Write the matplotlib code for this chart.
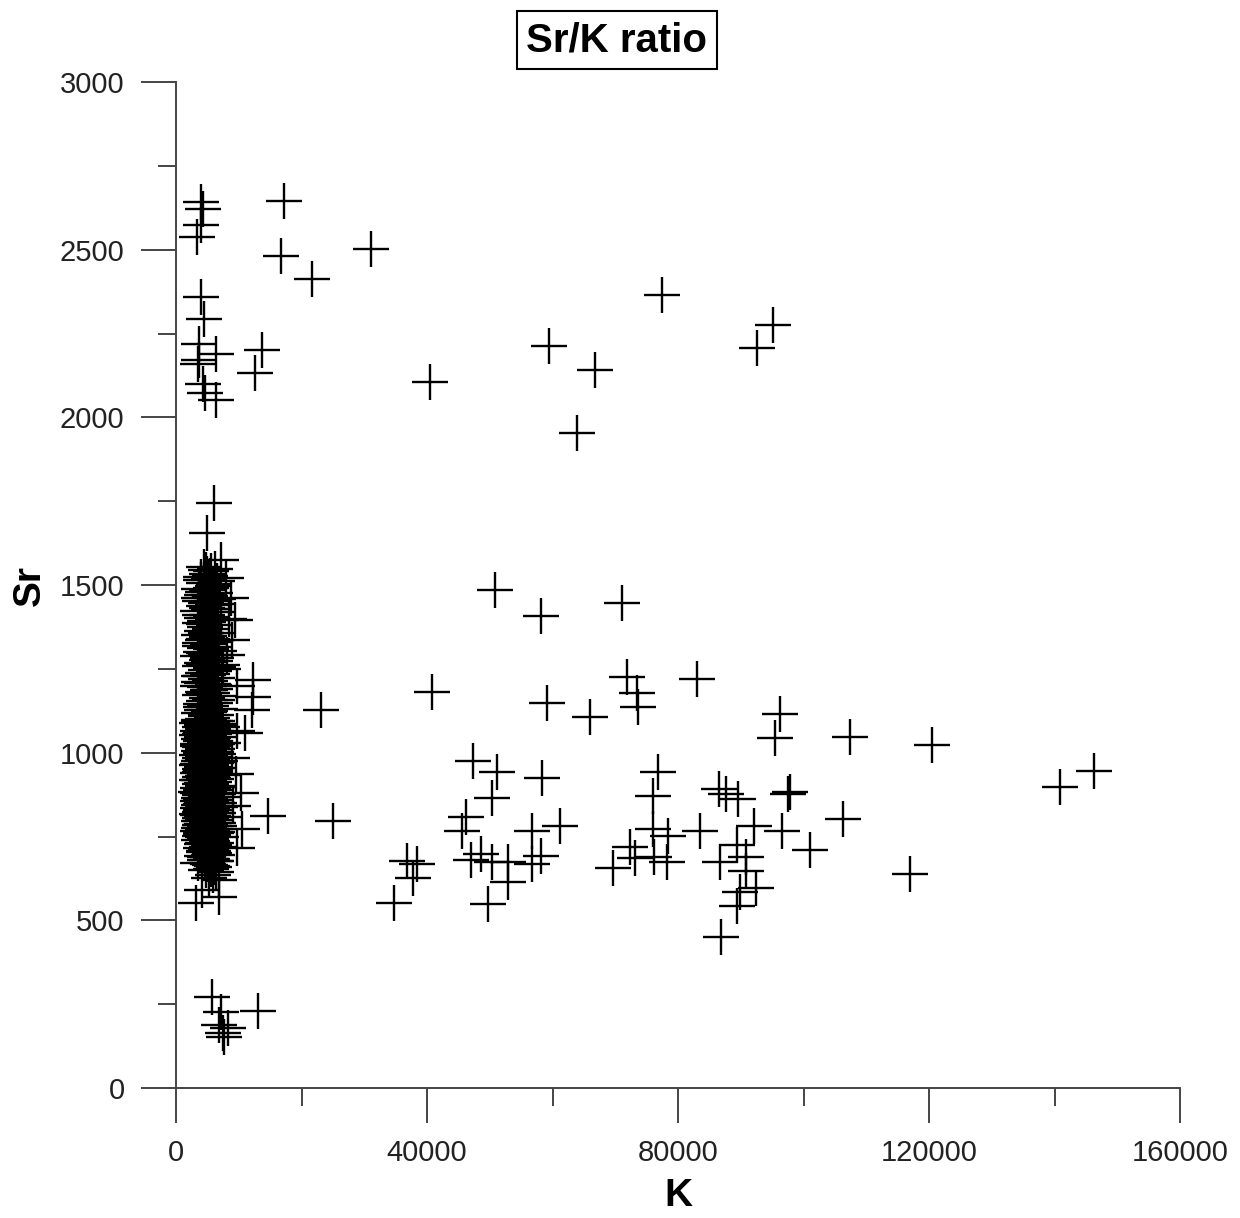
import matplotlib
matplotlib.use("Agg")
import matplotlib.pyplot as plt
from matplotlib.ticker import MultipleLocator

plt.rcParams["font.family"] = ["Liberation Sans", "DejaVu Sans"]

# Dense group of low-K samples (K, Sr)
cluster_top = [
    (4420, 1553), (5630, 1541), (6180, 1548), (4870, 1532), (3950, 1525), (5210, 1519),
    (6570, 1512), (4530, 1507), (5870, 1498), (3680, 1489), (4960, 1484), (6230, 1476),
    (4150, 1471), (5420, 1466), (6710, 1459), (3820, 1452), (4780, 1447), (5960, 1441),
    (4390, 1436), (5180, 1429), (3540, 1423), (6420, 1418), (4870, 1412), (5650, 1406),
    (4080, 1401), (7120, 1397), (5030, 1391), (3760, 1386), (6010, 1380), (4560, 1374),
    (5390, 1369), (4210, 1363), (6630, 1357), (3620, 1352), (4990, 1346), (5760, 1340),
    (4350, 1335), (6240, 1329), (5120, 1324), (3890, 1318), (4670, 1313), (5540, 1308),
    (6890, 1304), (4020, 1301), (5270, 1470), (4630, 1392), (5810, 1451), (4460, 1339),
    (6120, 1315), (3710, 1462), (5510, 1427), (4710, 1358),
    (4750, 1545), (5350, 1528), (4050, 1514), (6050, 1503), (5500, 1490), (4300, 1479),
    (6400, 1444), (4950, 1431), (3900, 1410), (5850, 1399), (4500, 1384), (5300, 1348),
    (6500, 1336), (3800, 1327),
]

cluster_mid = [
    (4520, 1296), (5880, 1291), (3570, 1287), (6390, 1282), (4930, 1277), (5290, 1271),
    (4150, 1266), (7340, 1262), (3860, 1257), (5610, 1252), (4740, 1247), (6080, 1243),
    (4310, 1238), (5150, 1233), (3650, 1229), (6560, 1224), (4860, 1219), (5470, 1214),
    (4070, 1209), (5940, 1205), (3490, 1200), (4610, 1196), (6270, 1191), (5080, 1186),
    (4230, 1181), (5720, 1177), (3780, 1172), (6840, 1168), (4970, 1163), (5360, 1158),
    (4400, 1153), (6150, 1149), (3920, 1144), (5560, 1139), (4690, 1135), (7020, 1130),
    (4110, 1126), (5210, 1121), (3610, 1117), (6320, 1112), (4840, 1108), (5770, 1104),
    (4280, 1101), (5030, 1283), (6010, 1201), (4570, 1142), (3960, 1229), (5420, 1188),
    (6680, 1256), (4760, 1114),
    (4800, 1294), (6200, 1274), (4400, 1261), (5700, 1236), (3700, 1211), (5200, 1199),
    (4500, 1174), (6500, 1156), (4000, 1137), (5400, 1124), (6600, 1095),
]

cluster_core = [
    (3740, 1098), (5190, 1096), (6230, 1094), (4480, 1092), (5710, 1090), (3420, 1088),
    (4910, 1086), (6650, 1084), (4170, 1082), (5430, 1080), (7280, 1078), (3890, 1076),
    (4650, 1074), (5960, 1072), (4300, 1070), (5180, 1068), (3560, 1066), (6390, 1064),
    (4820, 1062), (5590, 1060), (4050, 1058), (6080, 1056), (3330, 1054), (4570, 1052),
    (5320, 1050), (6870, 1048), (4210, 1046), (5010, 1044), (3700, 1042), (5800, 1040),
    (4440, 1038), (6270, 1036), (3950, 1034), (5140, 1032), (4690, 1030), (7460, 1028),
    (3480, 1026), (5530, 1024), (4120, 1022), (6030, 1020), (4900, 1018), (3810, 1016),
    (5690, 1014), (4360, 1012), (6510, 1010), (5070, 1008), (3600, 1006), (4730, 1004),
    (5910, 1002), (4030, 1000), (5260, 998), (6740, 996), (3370, 994), (4580, 992),
    (5470, 990), (4250, 988), (6150, 986), (3860, 984), (4980, 982), (5740, 980),
    (4410, 978), (7090, 976), (3640, 974), (5120, 972), (4760, 970), (6330, 968),
    (4080, 966), (5550, 964), (3290, 962), (4870, 960), (5960, 958), (4180, 956),
    (6590, 954), (3750, 952), (5230, 950), (4520, 948), (5830, 946), (3990, 944),
    (4940, 942), (6210, 940), (3510, 938), (4640, 936), (5390, 934), (7640, 932),
    (4270, 930), (5680, 928), (3900, 926), (5040, 924), (6440, 922), (4470, 920),
    (3420, 918), (5290, 916), (4790, 914), (6060, 912), (4100, 910), (5610, 908),
    (3780, 906), (4920, 904), (6830, 902), (4330, 900), (5440, 898), (3560, 896),
    (4690, 894), (5870, 892), (4010, 890), (6310, 888), (5150, 886), (3240, 884),
    (4560, 882), (5720, 880), (4220, 878), (6620, 876), (3850, 874), (5010, 872),
    (4740, 870), (7350, 868), (3640, 866), (5480, 864), (4380, 862), (6120, 860),
    (4880, 858), (3470, 856), (5600, 854), (4160, 852), (6470, 850), (5090, 848),
    (3920, 846), (4630, 844), (5810, 842), (4290, 840), (7050, 838), (3580, 836),
    (5340, 834), (4820, 832), (6210, 830), (4040, 828), (5520, 826), (3760, 824),
    (4950, 822), (6690, 820), (4460, 818), (3350, 816), (5180, 814), (5930, 812),
    (4190, 810), (7580, 808), (3840, 806), (4710, 804), (5640, 802), (4330, 800),
    (6380, 798), (3600, 796), (5070, 794), (4870, 792), (6010, 790), (4110, 788),
    (5460, 786), (3940, 784), (6840, 782), (4560, 780), (5270, 778), (3690, 776),
    (4960, 774), (6170, 772), (4240, 770), (5730, 768), (3430, 766), (4780, 764),
    (6530, 762), (4020, 760), (5380, 758), (4650, 756), (5850, 754), (3870, 752),
    (7180, 750),
    (4850, 1097), (3650, 1091), (5500, 1085), (6900, 1079), (4350, 1073), (5050, 1067),
    (6200, 1061), (3850, 1055), (4700, 1049), (5900, 1043), (4150, 1037), (5350, 1031),
    (6600, 1025), (3550, 1019), (4450, 1013), (5250, 1007), (6300, 1001), (3950, 995),
    (4800, 989), (5600, 983), (4300, 977), (6900, 971), (3450, 965), (5300, 959),
    (4600, 953), (6100, 947), (3850, 941), (5100, 935), (4350, 929), (5950, 923),
    (3650, 917), (4850, 911), (5500, 905), (6600, 899), (4150, 893), (5300, 887),
    (3450, 881), (4650, 875), (5950, 869), (4000, 863), (5250, 857), (6850, 851),
    (3700, 845), (4550, 839), (5700, 833), (4250, 827), (6400, 821), (3550, 815),
    (5000, 809), (5450, 803), (4050, 797), (6650, 791), (3750, 785), (4800, 779),
    (5550, 773), (4400, 767), (6300, 761), (3950, 755),
]

cluster_low = [
    (4350, 748), (5560, 744), (3710, 740), (4920, 736), (6320, 732), (4180, 728),
    (5240, 724), (7070, 720), (3950, 716), (4730, 712), (5890, 708), (4460, 704),
    (5410, 700), (6540, 696), (4070, 692), (5100, 688), (5780, 684), (4610, 680),
    (6180, 676), (4890, 672), (5340, 666), (6030, 660), (5620, 654), (4790, 650),
    (6360, 644), (5920, 636), (5230, 626), (3500, 671), (6850, 621), (4100, 590),
    (6900, 571), (3200, 553),
    (5150, 749), (4600, 743), (5700, 737), (4250, 731), (6100, 725), (4950, 719),
    (5500, 713), (4450, 707), (6000, 701), (5200, 695), (4700, 689), (5650, 683),
    (6300, 677), (5050, 669), (5800, 663),
]

# Samples just right of the dense group
cluster_edge = [
    (9400, 1396), (8900, 1336), (8100, 1290), (9800, 1198), (12270, 1217),
    (12270, 1165), (12100, 1127), (11000, 1060), (9720, 1065), (9000, 985),
    (9500, 935), (10300, 880), (9100, 840), (10500, 773), (9720, 716),
    (8700, 1460), (8400, 1400), (7900, 1520), (7500, 1250), (14660, 811),
    (6060, 1744), (4940, 1655), (7170, 1574),
]

# High-Sr samples with low K
high_sr = [
    (3980, 2642), (4300, 2621), (3980, 2574), (3350, 2538), (3980, 2359),
    (4460, 2293), (3660, 2219), (6450, 2189), (3660, 2171), (3500, 2159),
    (4300, 2100), (4620, 2073), (6380, 2052),
]

# Very low-Sr samples
low_sr = [
    (5740, 271), (7170, 226), (13020, 230), (6850, 188), (8290, 179),
    (7490, 164), (7650, 152),
]

# Samples spread across the K range
spread = [
    (17210, 2645), (16730, 2481), (21700, 2412), (31070, 2502), (13700, 2200),
    (12590, 2132), (40480, 2105), (59440, 2213), (66770, 2141), (63900, 1953),
    (77450, 2365), (92590, 2207), (95140, 2275),
    (50840, 1485), (58170, 1408), (71080, 1446), (71870, 1226), (73460, 1178),
    (73620, 1136), (83030, 1220), (96250, 1115), (95460, 1044), (40800, 1181),
    (59120, 1148), (65970, 1106), (23110, 1127), (107410, 1047), (120480, 1023),
    (146290, 945), (140870, 898), (25020, 796), (116970, 638),
    (47280, 975), (51160, 943), (58370, 924), (50360, 866), (46210, 807),
    (45580, 767), (56780, 767), (61240, 782), (36760, 678), (38360, 667),
    (37820, 627), (34740, 553), (47060, 679), (48650, 698), (50360, 674),
    (52860, 674), (52860, 615), (58170, 693), (56780, 667), (49770, 549),
    (76810, 943), (75970, 870), (75970, 771), (78450, 751), (78200, 673),
    (72350, 720), (73190, 685), (76170, 688), (69590, 657), (83500, 767),
    (86580, 891), (87650, 877), (89610, 861), (97850, 884), (97480, 876),
    (106340, 802), (92060, 781), (96570, 767), (101030, 710), (89350, 724),
    (86690, 673), (90790, 688), (90790, 646), (92380, 596), (89880, 584),
    (89350, 544), (86800, 449),
]

samples = cluster_top + cluster_mid + cluster_core + cluster_low + cluster_edge + high_sr + low_sr + spread
k_values = [p[0] for p in samples]
sr_values = [p[1] for p in samples]

fig = plt.figure(figsize=(12.4, 12.18), dpi=100)
ax = fig.add_axes([176 / 1240, 1 - 1088 / 1218, 1004 / 1240, 1006 / 1218])

ax.plot(k_values, sr_values, linestyle="none", marker="+", markersize=26,
        markeredgewidth=1.7, color="black", clip_on=False)

ax.set_xlim(0, 160000)
ax.set_ylim(0, 3000)

ax.xaxis.set_major_locator(MultipleLocator(40000))
ax.xaxis.set_minor_locator(MultipleLocator(20000))
ax.yaxis.set_major_locator(MultipleLocator(500))
ax.yaxis.set_minor_locator(MultipleLocator(250))

for side in ("top", "right"):
    ax.spines[side].set_visible(False)
for side in ("left", "bottom"):
    ax.spines[side].set_color("#444444")
    ax.spines[side].set_linewidth(1.4)

ax.tick_params(which="major", direction="out", length=25, width=1.4, color="#444444",
               labelsize=21, labelcolor="#222222", pad=12)
ax.tick_params(which="minor", direction="out", length=13, width=1.4, color="#444444")

ax.set_xlabel("K", fontsize=28, fontweight="bold")
ax.set_ylabel("Sr", fontsize=28, fontweight="bold")
ax.xaxis.set_label_coords(0.5, -0.089)
ax.yaxis.set_label_coords(-0.128, 0.5)

fig.text(0.4975, 1 - 40 / 1218, "Sr/K ratio", ha="center", va="center",
         fontsize=29, fontweight="bold",
         bbox=dict(boxstyle="square,pad=0.24", facecolor="white",
                   edgecolor="black", linewidth=1.5))

fig.savefig("out.png", dpi=100, facecolor="white")
